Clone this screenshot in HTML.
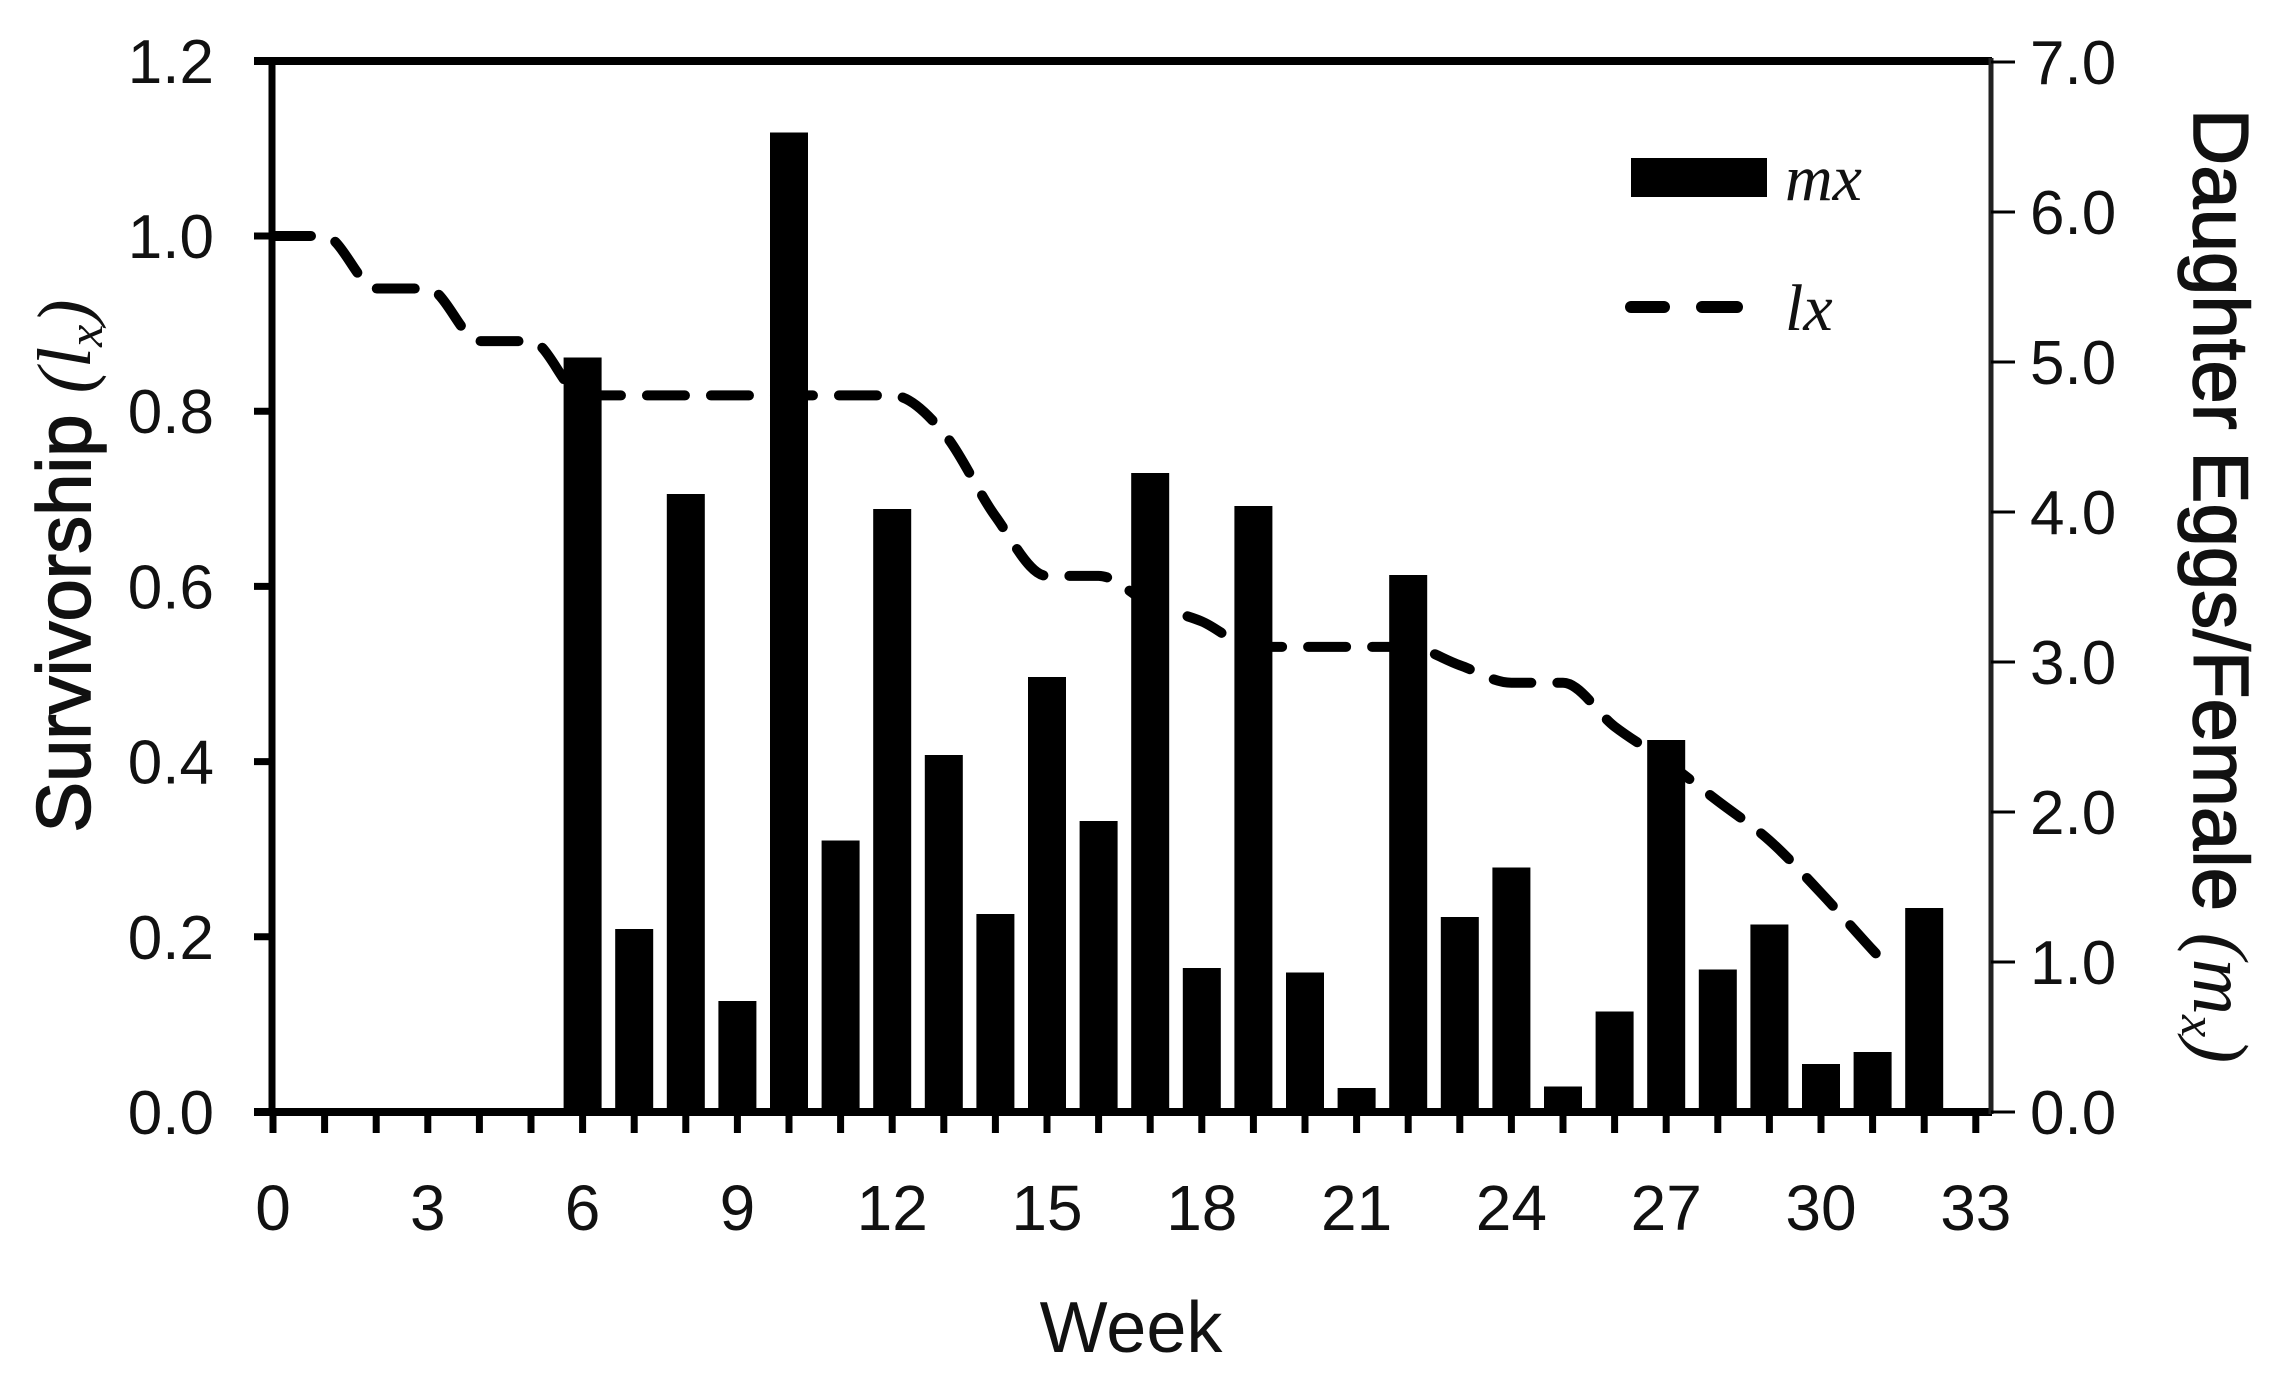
<!DOCTYPE html>
<html><head><meta charset="utf-8"><style>
html,body{margin:0;padding:0;background:#fff;}
svg{display:block;}
text{font-family:"Liberation Sans",Arial,sans-serif;fill:#111;}
</style></head><body>
<svg width="2288" height="1381" viewBox="0 0 2288 1381" xmlns="http://www.w3.org/2000/svg">
<rect width="2288" height="1381" fill="#fff"/>
<g id="bars" fill="#000"></g>
<path id="lx" fill="none" stroke="#000" stroke-width="10" stroke-dasharray="38,26" stroke-linecap="round"/>
<line x1="254" y1="61" x2="1992" y2="61" stroke="#000" stroke-width="8"/>
<line x1="272" y1="57" x2="272" y2="1116" stroke="#000" stroke-width="7"/>
<line x1="254" y1="1112" x2="1992" y2="1112" stroke="#000" stroke-width="8"/>
<line x1="1991" y1="58" x2="1991" y2="1114" stroke="#222" stroke-width="5"/>
<g id="ticks" stroke="#000"></g>
<g id="labels"></g>
<rect x="1631" y="158" width="136" height="39" fill="#000"/>
<text x="1785" y="200" font-style="italic" font-size="66" style="font-family:'Liberation Serif',serif">mx</text>
<line x1="1631" y1="307" x2="1664" y2="307" stroke="#000" stroke-width="12" stroke-linecap="round"/>
<line x1="1702" y1="307" x2="1737" y2="307" stroke="#000" stroke-width="12" stroke-linecap="round"/>
<text x="1785" y="330" font-style="italic" font-size="66" style="font-family:'Liberation Serif',serif">lx</text>
<text x="1131" y="1352" font-size="72" text-anchor="middle">Week</text>
<text transform="translate(90,566) rotate(-90)" font-size="76" text-anchor="middle" stroke="#111" stroke-width="1.5">Survivorship <tspan style="font-family:'Liberation Serif',serif" font-style="italic" stroke-width="0">(l<tspan font-size="50" dy="12">x</tspan><tspan dy="-12">)</tspan></tspan></text>
<text transform="translate(2194,586) rotate(90)" font-size="78" text-anchor="middle" stroke="#111" stroke-width="1.5">Daughter Eggs/Female <tspan style="font-family:'Liberation Serif',serif" font-style="italic" stroke-width="0">(m<tspan font-size="50" dy="12">x</tspan><tspan dy="-12">)</tspan></tspan></text>
</svg>
<script>
var NS="http://www.w3.org/2000/svg";
function X(w){return 273+w*51.6;}
function YL(v){return 1112-v*876;}
function YR(v){return 1112-v*150;}
var mx={6:5.03,7:1.22,8:4.12,9:0.74,10:6.53,11:1.81,12:4.02,13:2.38,14:1.32,15:2.90,16:1.94,17:4.26,18:0.96,19:4.04,20:0.93,21:0.16,22:3.58,23:1.30,24:1.63,25:0.17,26:0.67,27:2.48,28:0.95,29:1.25,30:0.32,31:0.40,32:1.36};
var g=document.getElementById('bars');
for(var k in mx){var r=document.createElementNS(NS,'rect');var x=X(+k);r.setAttribute('x',x-19);r.setAttribute('width',38);r.setAttribute('y',YR(mx[k]));r.setAttribute('height',1112-YR(mx[k]));g.appendChild(r);}
var pts=[[0,1],[1,1],[2,0.94],[3,0.94],[4,0.88],[5,0.88],[6,0.818],[7,0.818],[8,0.818],[9,0.818],[10,0.818],[11,0.818],[12,0.818],[13,0.775],[14,0.68],[15,0.612],[16,0.612],[17,0.58],[18,0.56],[19,0.531],[20,0.531],[21,0.531],[22,0.531],[23,0.51],[24,0.49],[25,0.49],[26,0.44],[27,0.40],[28,0.355],[29,0.31],[30,0.25],[31,0.185],[31.4,0.16]];
var P=pts.map(function(p){return [X(p[0]),YL(p[1])];});
var n=P.length,dl=[],m=[];
for(var i=0;i<n-1;i++)dl.push((P[i+1][1]-P[i][1])/(P[i+1][0]-P[i][0]));
for(var i=0;i<n;i++){if(i==0)m.push(dl[0]);else if(i==n-1)m.push(dl[n-2]);else if(dl[i-1]*dl[i]<=0)m.push(0);else m.push((dl[i-1]+dl[i])/2);}
for(var i=0;i<n-1;i++){if(dl[i]==0){m[i]=0;m[i+1]=0;}}
var d="M"+P[0][0]+","+P[0][1];
for(var i=0;i<n-1;i++){var h=(P[i+1][0]-P[i][0])/3;d+=" C"+(P[i][0]+h)+","+(P[i][1]+m[i]*h)+" "+(P[i+1][0]-h)+","+(P[i+1][1]-m[i+1]*h)+" "+P[i+1][0]+","+P[i+1][1];}
document.getElementById('lx').setAttribute('d',d);
var tg=document.getElementById('ticks'),lg=document.getElementById('labels');
function line(x1,y1,x2,y2,w){var l=document.createElementNS(NS,'line');l.setAttribute('x1',x1);l.setAttribute('y1',y1);l.setAttribute('x2',x2);l.setAttribute('y2',y2);l.setAttribute('stroke-width',w);tg.appendChild(l);}
function txt(x,y,s,a,fs){var t=document.createElementNS(NS,'text');t.setAttribute('x',x);t.setAttribute('y',y);t.setAttribute('text-anchor',a);t.setAttribute('font-size',fs);t.textContent=s;lg.appendChild(t);}
for(var w=0;w<=33;w++){line(X(w),1112,X(w),1133,7);if(w%3==0)txt(X(w),1230,String(w),'middle',64);}
for(var i=0;i<=6;i++){var v=i*0.2;var y=YL(v);line(254,y,272,y,7);txt(214,y+22,v.toFixed(1),'end',62);}
for(var i=0;i<=7;i++){var y=YR(i);line(1991,y,2015,y,3);txt(2030,y+22,i.toFixed(1),'start',62);}
</script>
</body></html>
